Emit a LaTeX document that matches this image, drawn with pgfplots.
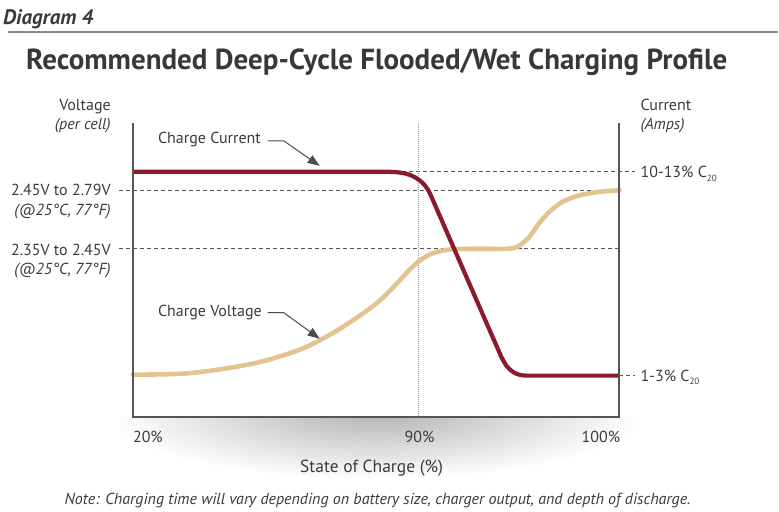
\documentclass[border=0pt]{standalone}
\usepackage{pgfplots}
\pgfplotsset{compat=1.18}
\usepackage{fontspec}
\setmainfont{PT Sans}
\usetikzlibrary{arrows.meta}
\definecolor{redc}{HTML}{8A1A2C}
\definecolor{beigec}{HTML}{E2C391}
\definecolor{axisc}{HTML}{555555}
\definecolor{dashc}{HTML}{555555}
\definecolor{txtc}{HTML}{3B3B3B}
\definecolor{rulec}{HTML}{8A8A8A}
\begin{document}
\begin{tikzpicture}
\begin{scope}[x=1pt,y=-1pt,shift={(0pt,512pt)}]
\useasboundingbox (0,0) rectangle (779,512);
\begin{scope}
\clip (120,418) rectangle (640,480);
\shade[inner color=black!30, outer color=white] (376,412) ellipse [x radius=270, y radius=68];
\end{scope}
\end{scope}
\begin{axis}[at={(133pt,95pt)}, anchor=south west, scale only axis,
  width=487pt, height=292pt, xmin=133, xmax=620, ymin=125, ymax=417,
  y dir=reverse, hide axis, clip=false]
\draw[dashc, line width=0.9pt, dash pattern=on 4pt off 3pt] (axis cs:388,172) -- (axis cs:636,172);
\draw[dashc, line width=0.9pt, dash pattern=on 4pt off 3pt] (axis cs:119,191) -- (axis cs:620,191);
\draw[dashc, line width=0.9pt, dash pattern=on 4pt off 3pt] (axis cs:119,249) -- (axis cs:620,249);
\draw[dashc, line width=0.9pt, dash pattern=on 4pt off 3pt] (axis cs:620,376) -- (axis cs:636,376);
\draw[black!40, line width=0.8pt, dash pattern=on 1pt off 1pt] (axis cs:419,123) -- (axis cs:419,417);
\addplot[beigec, line width=4.6pt, smooth, tension=0.5, line cap=round] coordinates {
(133,375) (190,373.5) (253,364) (300,350) (332,334) (360,316) (380,301) (397,284) (409,271) (420,261) (432,254) (445,250.5) (458,249.2) (485,249) (508,249) (519,246.5) (530,237) (540,223) (550,212) (563,202) (580,195.5) (600,192) (620,190.5)};
\addplot[redc, line width=4.2pt, line join=round] coordinates {
(133,172) (391,172) (398,172.4) (404.8,173.4) (410.7,175.2) (416,177.8) (420.7,181.0) (424.8,184.9) (428.2,189.6) (431,195) (502,357.7) (504.4,362.0) (506.6,365.7) (509.3,368.8) (512.3,371.4) (515.5,373.4) (519,374.9) (522.8,375.7) (527,376) (620,376)};
\draw[axisc, line width=2pt] (axis cs:133,123) -- (axis cs:133,417) -- (axis cs:620,417) -- (axis cs:620,123);
\end{axis}
\begin{scope}[x=1pt,y=-1pt,shift={(0pt,512pt)}, every node/.style={inner sep=0pt, text=txtc}]
\node[anchor=base west, font=\bfseries\itshape\fontsize{21}{23}\selectfont] at (3,25) {Diagram 4};
\draw[rulec, line width=1.5pt] (8,32) -- (779,32);
\node[anchor=base west, font=\bfseries\fontsize{29}{32}\selectfont, text=black!78] at (26,70) {Recommended Deep-Cycle Flooded/Wet Charging Profile};
\begin{scope}[every node/.append style={font=\fontsize{16}{18}\selectfont}]
\node[anchor=base east] at (111,111) {Voltage};
\node[anchor=base east, font=\itshape\fontsize{16}{18}\selectfont] at (111,130) {(per cell)};
\node[anchor=base east] at (111,196) {2.45V to 2.79V};
\node[anchor=base east, font=\itshape\fontsize{16}{18}\selectfont] at (111,216) {(@25°C, 77°F)};
\node[anchor=base east] at (111,256) {2.35V to 2.45V};
\node[anchor=base east, font=\itshape\fontsize{16}{18}\selectfont] at (111,275) {(@25°C, 77°F)};
\node[anchor=base west] at (641,111) {Current};
\node[anchor=base west, font=\itshape\fontsize{16}{18}\selectfont] at (641,130) {(Amps)};
\node[anchor=base west] at (641,178) {10-13\% C\raisebox{-0.4ex}{\fontsize{9}{10}\selectfont 20}};
\node[anchor=base west] at (641,382) {1-3\% C\raisebox{-0.4ex}{\fontsize{9}{10}\selectfont 20}};
\node[anchor=base west] at (133,443) {20\%};
\node[anchor=base] at (420,443) {90\%};
\node[anchor=base east] at (621,443) {100\%};
\node[anchor=base west] at (158,144) {Charge Current};
\node[anchor=base west] at (158,317) {Charge Voltage};
\end{scope}
\node[anchor=base, font=\fontsize{17.5}{20}\selectfont] at (372,473) {State of Charge (\%)};
\node[anchor=base, font=\itshape\fontsize{16}{18}\selectfont] at (378,505) {Note: Charging time will vary depending on battery size, charger output, and depth of discharge.};
\draw[black!70, line width=1pt, -{Triangle[length=12pt,width=9pt]}] (268,141) -- (284,141) -- (320,166);
\draw[black!70, line width=1pt, -{Triangle[length=12pt,width=9pt]}] (268,313) -- (284,313) -- (320,339);
\end{scope}
\end{tikzpicture}
\end{document}
